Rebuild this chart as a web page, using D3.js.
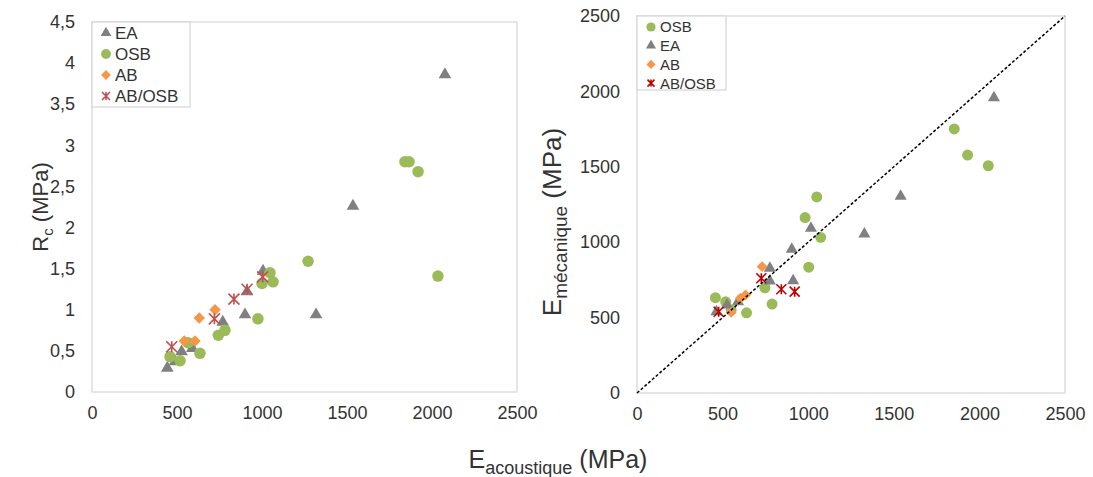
<!DOCTYPE html>
<meta charset="utf-8">
<head>
  <style>
    body { margin: 0; background: #fff; font-family: Arial, "Liberation Sans", sans-serif; }
    .tick text { fill: #333; font-size: 18px; }
    .legend-text { fill: #333; }
    .title { fill: #333; }
  </style>
  <script src="https://cdn.jsdelivr.net/npm/d3@7"></script>
</head>
<body>
  <div id="viz"></div>
</body>
<script>
// left chart: Rc vs E acoustique
var eaLeftX = [443, 488, 527, 590, 769, 900, 912, 1006, 1318, 1535, 2076];
var eaLeftY = [0.29, 0.37, 0.49, 0.53, 0.85, 0.94, 1.22, 1.47, 0.94, 2.26, 3.86];
var osbLeftX = [459, 518, 565, 635, 743, 782, 976, 1000, 1047, 1065, 1271, 1841, 1865, 1918, 2035];
var osbLeftY = [0.43, 0.38, 0.60, 0.47, 0.69, 0.75, 0.89, 1.32, 1.45, 1.34, 1.59, 2.80, 2.80, 2.68, 1.41];
var abLeftX = [543, 606, 631, 724];
var abLeftY = [0.62, 0.62, 0.90, 1.00];
var abosbLeftX = [469, 720, 835, 912, 1004];
var abosbLeftY = [0.55, 0.89, 1.13, 1.25, 1.40];

// right chart: E mecanique vs E acoustique
var osbRightX = [458, 518, 550, 640, 747, 789, 1003, 982, 1050, 1073, 1853, 1931, 2052];
var osbRightY = [632, 605, 550, 532, 698, 590, 834, 1163, 1300, 1032, 1751, 1578, 1507];
var eaRightX = [464, 526, 590, 776, 776, 912, 904, 1016, 1328, 1540, 2085];
var eaRightY = [539, 584, 605, 827, 743, 745, 953, 1092, 1054, 1305, 1958];
var abRightX = [550, 604, 634, 731];
var abRightY = [535, 628, 650, 838];
var abosbRightX = [477, 726, 843, 921];
var abosbRightY = [539, 761, 688, 672];

var xTicks = [0, 500, 1000, 1500, 2000, 2500];
var yTicksLeft = [0, 0.5, 1, 1.5, 2, 2.5, 3, 3.5, 4, 4.5];
var yTicksRight = [0, 500, 1000, 1500, 2000, 2500];

var grey = "#808080", green = "#9bbb59", orange = "#f79646";

var svg = d3.select("#viz").append("svg")
  .attr("width", 1093).attr("height", 477);

function pts(xs, ys) { return xs.map(function(x, i) { return [x, ys[i]]; }); }

/* marker drawing helpers */
function shape(kind, size) {
  if (kind == "tri") return d3.symbol(d3.symbolTriangle, size * 6.3)();
  if (kind == "circle") return d3.symbol(d3.symbolCircle, size * 9.5)();
  if (kind == "diamond") return d3.symbol(d3.symbolSquare, size * 6)();
  var s = size * 0.5;
  return "M" + (-s) + "," + (-s) + "L" + s + "," + s + "M" + (-s) + "," + s + "L" + s + "," + (-s) + "M0," + (-s) + "L0," + s;
}

function drawSeries(g, data, x, y, kind, color, size) {
  g.append("g").selectAll("path")
    .data(data)
    .enter()
    .append("path")
      .attr("d", shape(kind, size))
      .attr("transform", function(d) {
        return "translate(" + x(d[0]) + "," + y(d[1]) + ")" + (kind == "diamond" ? " rotate(45)" : "");
      })
      .attr("fill", kind == "star" ? "none" : color)
      .attr("stroke", kind == "star" ? color : "none")
      .attr("stroke-width", 1.6);
}

function drawAxes(x, y, yTicks, yFmt) {
  svg.append("rect")
    .attr("x", x.range()[0]).attr("y", y.range()[1])
    .attr("width", x.range()[1] - x.range()[0]).attr("height", y.range()[0] - y.range()[1])
    .attr("fill", "none").attr("stroke", "#d9d9d9").attr("stroke-width", 1.3);

  var ax = svg.append("g")
    .attr("transform", "translate(0," + y.range()[0] + ")")
    .call(d3.axisBottom(x).tickValues(xTicks).tickSize(0).tickPadding(14).tickFormat(d3.format("d")));
  ax.select(".domain").remove();

  var ay = svg.append("g")
    .attr("transform", "translate(" + x.range()[0] + ",0)")
    .call(d3.axisLeft(y).tickValues(yTicks).tickSize(0).tickPadding(17).tickFormat(yFmt));
  ay.select(".domain").remove();
  svg.selectAll(".tick text").attr("font-family", "Arial, 'Liberation Sans', sans-serif");
}

function drawLegend(x0, y0, w, h, items, fontSize, rowH, size) {
  var g = svg.append("g");
  g.append("rect").attr("x", x0).attr("y", y0).attr("width", w).attr("height", h)
    .attr("fill", "#fff").attr("stroke", "#d9d9d9").attr("stroke-width", 1.3);
  items.forEach(function(it, i) {
    var cy = y0 + 11 + i * rowH;
    g.append("path")
      .attr("d", shape(it.kind, size))
      .attr("transform", "translate(" + (x0 + 14) + "," + cy + ")" + (it.kind == "diamond" ? " rotate(45)" : ""))
      .attr("fill", it.kind == "star" ? "none" : it.color)
      .attr("stroke", it.kind == "star" ? it.color : "none")
      .attr("stroke-width", 1.6);
    g.append("text").attr("class", "legend-text")
      .attr("x", x0 + 23).attr("y", cy).attr("dy", "0.36em")
      .attr("font-size", fontSize)
      .text(it.name);
  });
}

// ---- left chart
var xL = d3.scaleLinear().domain([0, 2500]).range([92, 517]);
var yL = d3.scaleLinear().domain([0, 4.5]).range([392, 22]);
drawAxes(xL, yL, yTicksLeft, function(d) { return String(d).replace(".", ","); });

var gL = svg.append("g");
drawSeries(gL, pts(eaLeftX, eaLeftY), xL, yL, "tri", grey, 11);
drawSeries(gL, pts(osbLeftX, osbLeftY), xL, yL, "circle", green, 11);
drawSeries(gL, pts(abLeftX, abLeftY), xL, yL, "diamond", orange, 11);
drawSeries(gL, pts(abosbLeftX, abosbLeftY), xL, yL, "star", "#c0504d", 11);

drawLegend(92, 22, 98, 85, [
  {name: "EA", kind: "tri", color: grey},
  {name: "OSB", kind: "circle", color: green},
  {name: "AB", kind: "diamond", color: orange},
  {name: "AB/OSB", kind: "star", color: "#c0504d"}
], 17, 21, 8);

// ---- right chart
var xR = d3.scaleLinear().domain([0, 2500]).range([637, 1065]);
var yR = d3.scaleLinear().domain([0, 2500]).range([393, 16]);
drawAxes(xR, yR, yTicksRight, d3.format("d"));

var gR = svg.append("g");
drawSeries(gR, pts(osbRightX, osbRightY), xR, yR, "circle", green, 10);
drawSeries(gR, pts(eaRightX, eaRightY), xR, yR, "tri", grey, 10);
drawSeries(gR, pts(abRightX, abRightY), xR, yR, "diamond", orange, 10);
drawSeries(gR, pts(abosbRightX, abosbRightY), xR, yR, "star", "#c00000", 10);

gR.append("line")
  .attr("x1", xR(0)).attr("y1", yR(0)).attr("x2", xR(2500)).attr("y2", yR(2500))
  .attr("stroke", "#000").attr("stroke-width", 1.5).attr("stroke-dasharray", "3,2");

drawLegend(637, 16, 89, 74, [
  {name: "OSB", kind: "circle", color: green},
  {name: "EA", kind: "tri", color: grey},
  {name: "AB", kind: "diamond", color: orange},
  {name: "AB/OSB", kind: "star", color: "#c00000"}
], 15, 18.7, 7);

// ---- axis titles
var tL = svg.append("text").attr("class", "title")
  .attr("transform", "translate(48,207) rotate(-90)")
  .attr("text-anchor", "middle").attr("font-size", 22);
tL.append("tspan").text("R");
tL.append("tspan").attr("font-size", 15).attr("dy", 5).text("c");
tL.append("tspan").attr("dy", -5).text(" (MPa)");

var tR = svg.append("text").attr("class", "title")
  .attr("transform", "translate(561,222) rotate(-90)")
  .attr("text-anchor", "middle").attr("font-size", 26);
tR.append("tspan").text("E");
tR.append("tspan").attr("font-size", 19).attr("dy", 6).text("mécanique");
tR.append("tspan").attr("dy", -6).text(" (MPa)");

var tB = svg.append("text").attr("class", "title")
  .attr("x", 558).attr("y", 468)
  .attr("text-anchor", "middle").attr("font-size", 25);
tB.append("tspan").text("E");
tB.append("tspan").attr("font-size", 18).attr("dy", 6).text("acoustique");
tB.append("tspan").attr("dy", -6).text(" (MPa)");
</script>
